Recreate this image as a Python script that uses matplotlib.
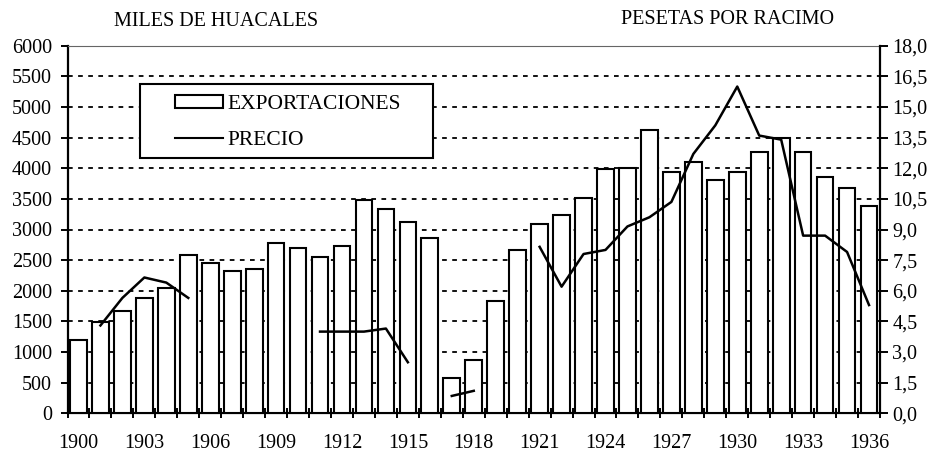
import matplotlib
matplotlib.use("Agg")
import matplotlib.pyplot as plt
import numpy as np
from matplotlib.patches import Rectangle, Patch
from matplotlib.lines import Line2D
from matplotlib.ticker import FuncFormatter

plt.rcParams['font.family'] = ['Liberation Serif', 'DejaVu Serif']

years = list(range(1900, 1937))
exportaciones = [1190, 1490, 1675, 1875, 2040, 2580, 2460, 2330, 2350, 2785,
                 2690, 2555, 2730, 3485, 3340, 3120, 2860, 580, 875, 1825,
                 2670, 3090, 3230, 3510, 3990, 4000, 4625, 3935, 4095, 3810,
                 3945, 4260, 4490, 4260, 3855, 3675, 3390]
nan = np.nan
precio = [nan, 4.3, 5.65, 6.65, 6.4, 5.65, nan, nan, nan, nan,
          nan, 4.0, 4.0, 4.0, 4.15, 2.5, nan, 0.85, 1.1, nan,
          nan, 8.15, 6.2, 7.8, 8.0, 9.15, 9.6, 10.35, 12.7, 14.1,
          16.0, 13.6, 13.4, 8.7, 8.7, 7.9, 5.3]
left_ticks = list(range(0, 6001, 500))
right_ticks = [i * 1.5 for i in range(13)]
label_years = list(range(1900, 1937, 3))

W, H = 937, 455
fig = plt.figure(figsize=(W / 100, H / 100), dpi=100)
x0, x1, yb, yt = 67.5, 880, 413.3, 45.7
ax = fig.add_axes([x0 / W, (H - yb) / H, (x1 - x0) / W, (yb - yt) / H])

pos = np.arange(len(years))
ax.bar(pos, exportaciones, width=0.76, color='white', edgecolor='black',
       linewidth=1.5, zorder=3)
ax.set_xlim(-0.5, len(years) - 0.5)
ax.set_ylim(0, 6000)

for v in left_ticks[1:-1]:
    ax.axhline(v, color='black', linewidth=1.3, linestyle=(0, (2.6, 3.0)), zorder=1)

ax.set_yticks(left_ticks)
ax.set_yticklabels([str(v) for v in left_ticks])
ax.tick_params(axis='y', direction='out', length=5, width=1.4, pad=6, labelsize=14.5)

ax.set_xticks([p for p, yv in zip(pos, years) if yv in label_years])
ax.set_xticklabels([str(y) for y in label_years])
ax.set_xticks(np.arange(-0.5, len(years), 1.0), minor=True)
ax.tick_params(axis='x', which='major', length=0, pad=15, labelsize=14.5)
ax.tick_params(axis='x', which='minor', direction='inout', length=7, width=1.4)

for s in ['left', 'bottom']:
    ax.spines[s].set_linewidth(1.6)
ax.spines['top'].set_linewidth(0.8)
ax.spines['top'].set_color('#666666')
ax.spines['right'].set_visible(False)

ax2 = ax.twinx()
ax2.plot(pos, precio, color='black', linewidth=1.8, zorder=5)
ax2.set_ylim(0, 18)
ax2.set_yticks(right_ticks)
ax2.yaxis.set_major_formatter(FuncFormatter(lambda v, p: f"{v:.1f}".replace('.', ',')))
ax2.tick_params(axis='y', direction='out', length=6, width=1.4, pad=3, labelsize=14.5)
ax2.spines['right'].set_linewidth(1.6)
ax2.spines['top'].set_visible(False)
ax2.spines['left'].set_visible(False)
ax2.spines['bottom'].set_visible(False)

fig.text(216 / W, 1 - 21 / H, 'MILES DE HUACALES', ha='center', va='center', fontsize=14.5)
fig.text(728 / W, 1 - 20 / H, 'PESETAS POR RACIMO', ha='center', va='center', fontsize=14.5)

# legend box
box = Rectangle((140 / W, 1 - 158 / H), (433 - 140) / W, (158 - 84) / H,
                transform=fig.transFigure, facecolor='white', edgecolor='black',
                linewidth=1.5, zorder=10)
fig.patches.append(box)
handles = [Patch(facecolor='white', edgecolor='black', linewidth=1.5),
           Line2D([], [], color='black', linewidth=1.5)]
leg = fig.legend(handles, ['EXPORTACIONES', 'PRECIO'], loc='upper left',
                 bbox_to_anchor=(171 / W, 1 - 91 / H), frameon=False,
                 fontsize=15.5, handlelength=2.2, handleheight=0.55,
                 handletextpad=0.2, labelspacing=0.78, borderpad=0.2,
                 borderaxespad=0)
leg.set_zorder(11)

fig.savefig('out.png', dpi=100)
